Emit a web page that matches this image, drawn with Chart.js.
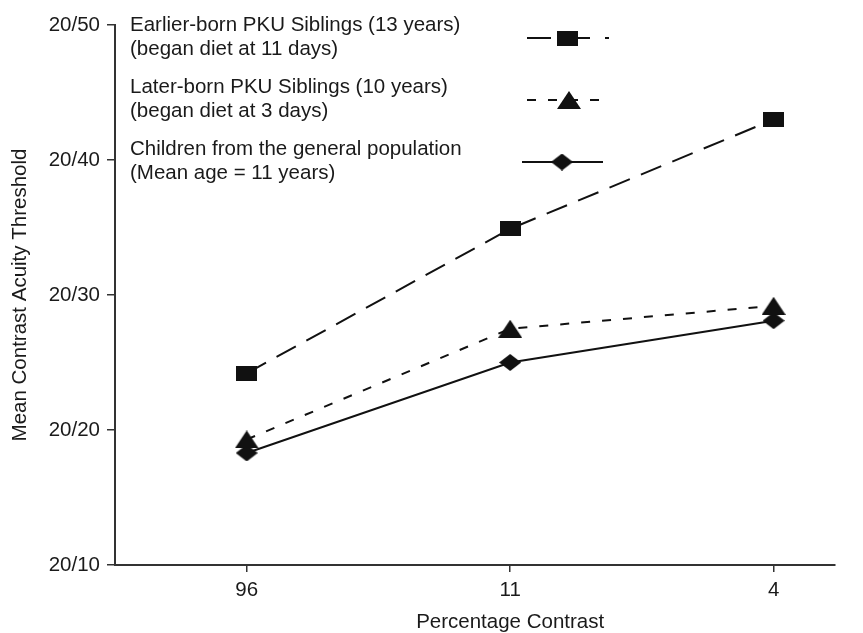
<!DOCTYPE html>
<html>
<head>
<meta charset="utf-8">
<script src="https://cdn.jsdelivr.net/npm/chart.js@4.4.1/dist/chart.umd.min.js"></script>
<style>
  html, body { margin: 0; padding: 0; background: #fff; }
  canvas { display: block; }
</style>
</head>
<body>
<canvas id="grafico" width="863" height="633"></canvas>
<script>
// Datos
const categorias = ['96', '11', '4'];
const valoresY = [10, 20, 30, 40, 50];
const hermanosMayores = [24.2, 34.9, 43.0];
const hermanosMenores = [19.3, 27.5, 29.2];
const poblacionGeneral = [18.3, 25.0, 28.1];
const leyendaTextos = [
    ['Earlier-born PKU Siblings (13 years)', '(began diet at 11 days)'],
    ['Later-born PKU Siblings (10 years)', '(began diet at 3 days)'],
    ['Children from the general population', '(Mean age = 11 years)']
];
const tituloX = 'Percentage Contrast';

const tinta = '#111';
const fuente = "'Liberation Sans', Arial, Helvetica, sans-serif";
const tamFuente = 20.5;

// marcadores dibujados en canvas pequeños
function marcador(tipo) {
    const c = document.createElement('canvas');
    const ctx = c.getContext('2d');
    if (tipo === 'cuadrado') {
        c.width = 21; c.height = 15;
        ctx.fillStyle = tinta;
        ctx.fillRect(0, 0, 21, 15);
    } else if (tipo === 'triangulo') {
        c.width = 24; c.height = 18;
        ctx.fillStyle = tinta;
        ctx.beginPath();
        ctx.moveTo(12, 0);
        ctx.lineTo(24, 18);
        ctx.lineTo(0, 18);
        ctx.closePath();
        ctx.fill();
    } else {
        c.width = 22; c.height = 17;
        ctx.fillStyle = tinta;
        ctx.beginPath();
        ctx.moveTo(11, 0);
        ctx.lineTo(22, 8.5);
        ctx.lineTo(11, 17);
        ctx.lineTo(0, 8.5);
        ctx.closePath();
        ctx.fill();
    }
    return c;
}

const series = [
    { datos: hermanosMayores, dash: [22, 12], punto: marcador('cuadrado') },
    { datos: hermanosMenores, dash: [9, 12], punto: marcador('triangulo') },
    { datos: poblacionGeneral, dash: [], punto: marcador('diamante') }
];

// leyenda dentro del área del gráfico + título del eje x centrado en "11"
const leyendaPlugin = {
    id: 'leyenda',
    afterDraw(chart) {
        const ctx = chart.ctx;
        ctx.save();
        ctx.fillStyle = '#1a1a1a';
        ctx.font = tamFuente + 'px ' + fuente;
        ctx.textBaseline = 'middle';
        ctx.textAlign = 'left';
        const filas = [[25, 49], [87, 111], [149, 173]];
        const muestras = [
            { y: 38, x0: 527, x1: 609, xm: 567 },
            { y: 100, x0: 527, x1: 606, xm: 569 },
            { y: 162, x0: 522, x1: 603, xm: 562 }
        ];
        leyendaTextos.forEach((lineas, i) => {
            ctx.fillText(lineas[0], 130, filas[i][0]);
            ctx.fillText(lineas[1], 130, filas[i][1]);
            const m = muestras[i];
            ctx.strokeStyle = tinta;
            ctx.lineWidth = 2;
            ctx.setLineDash(i === 0 ? [24, 15] : series[i].dash);
            ctx.beginPath();
            ctx.moveTo(m.x0, m.y);
            ctx.lineTo(m.x1, m.y);
            ctx.stroke();
            ctx.setLineDash([]);
            const img = series[i].punto;
            ctx.drawImage(img, m.xm - img.width / 2, m.y - img.height / 2);
        });

        const xCentro = chart.scales.x.getPixelForValue(1);
        ctx.textAlign = 'center';
        ctx.fillText(tituloX, xCentro, 622);
        ctx.restore();
    }
};

new Chart(document.getElementById('grafico'), {
    type: 'line',
    data: {
        datasets: series.map(s => ({
            data: s.datos.map((v, i) => ({ x: i, y: v })),
            borderColor: tinta,
            borderWidth: 2,
            borderDash: s.dash,
            pointStyle: s.punto,
            pointRadius: 10,
            tension: 0,
            fill: false
        }))
    },
    options: {
        responsive: false,
        animation: false,
        devicePixelRatio: 1,
        layout: { padding: { top: 25, right: 28, left: 0, bottom: 0 } },
        plugins: {
            legend: { display: false },
            tooltip: { enabled: false }
        },
        scales: {
            x: {
                type: 'linear',
                min: -0.5,
                max: 2.233,
                afterBuildTicks: s => { s.ticks = categorias.map((c, i) => ({ value: i })); },
                afterFit: s => { s.height = 68; },
                ticks: {
                    autoSkip: false,
                    color: '#1a1a1a',
                    padding: 6,
                    font: { family: fuente, size: tamFuente },
                    callback: v => categorias[v]
                },
                grid: { drawOnChartArea: false, drawTicks: true, tickLength: 7, color: '#333', lineWidth: 1.5 },
                border: { color: '#333', width: 2 },
                title: { display: false }
            },
            y: {
                min: 10,
                max: 50,
                afterBuildTicks: s => { s.ticks = valoresY.map(v => ({ value: v })); },
                afterFit: s => { s.width = 115; },
                ticks: {
                    color: '#1a1a1a',
                    padding: 7,
                    font: { family: fuente, size: tamFuente },
                    callback: v => '20/' + v
                },
                grid: { drawOnChartArea: false, drawTicks: true, tickLength: 8, color: '#333', lineWidth: 1.5 },
                border: { color: '#333', width: 2 },
                title: {
                    display: true,
                    text: 'Mean Contrast Acuity Threshold',
                    color: '#1a1a1a',
                    font: { family: fuente, size: tamFuente },
                    padding: { top: 8, bottom: 0 }
                }
            }
        }
    },
    plugins: [leyendaPlugin]
});
</script>
</body>
</html>
